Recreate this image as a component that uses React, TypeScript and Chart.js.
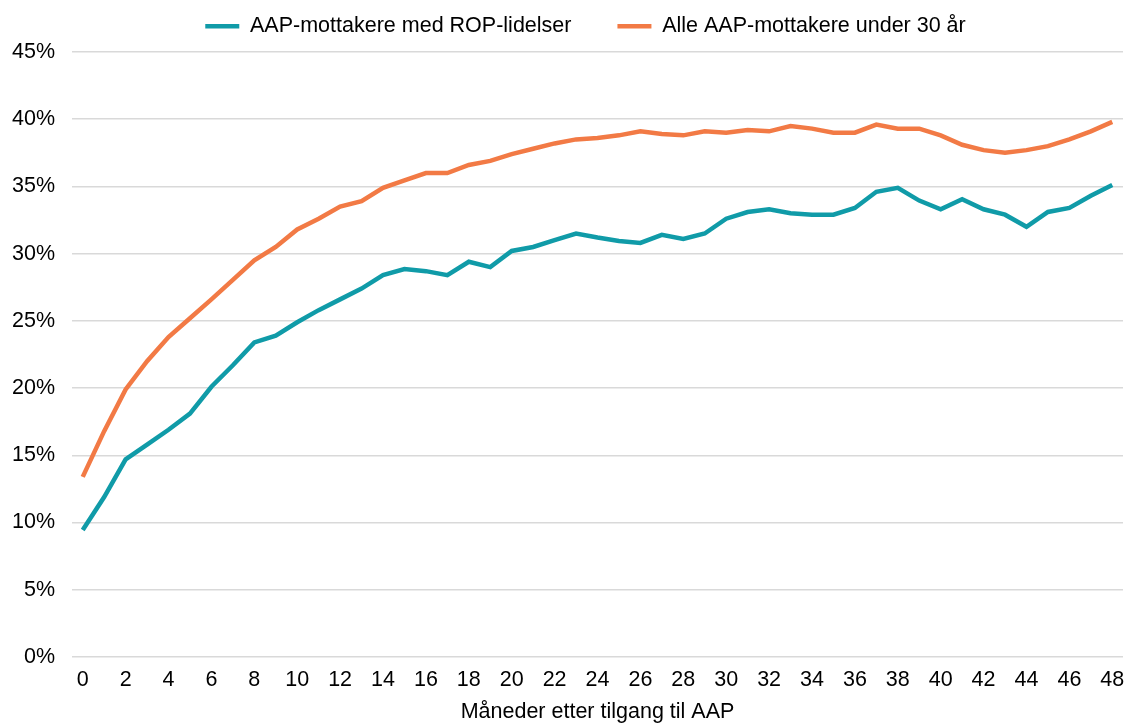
import React, { useEffect, useRef } from "react";
import { Chart, registerables } from "chart.js";

Chart.register(...registerables);

const months: string[] = Array.from({ length: 49 }, (_, i) => String(i));

const ropSeries: number[] = [
  9.45, 11.9, 14.7, 15.8, 16.9, 18.1, 20.1, 21.7, 23.4, 23.9,
  24.9, 25.8, 26.6, 27.4, 28.4, 28.85, 28.7, 28.4, 29.4, 29.0,
  30.2, 30.5, 31.0, 31.5, 31.2, 30.95, 30.8, 31.4, 31.1, 31.5,
  32.6, 33.1, 33.3, 33.0, 32.9, 32.9, 33.4, 34.6, 34.9, 33.95,
  33.3, 34.05, 33.3, 32.9, 32.0, 33.1, 33.4, 34.3, 35.1,
];

const allSeries: number[] = [
  13.4, 16.8, 19.9, 22.0, 23.8, 25.2, 26.6, 28.05, 29.5, 30.5,
  31.8, 32.6, 33.5, 33.9, 34.9, 35.45, 36.0, 36.0, 36.6, 36.9,
  37.4, 37.8, 38.2, 38.5, 38.6, 38.8, 39.1, 38.9, 38.8, 39.1,
  39.0, 39.2, 39.1, 39.5, 39.3, 39.0, 39.0, 39.6, 39.3, 39.3,
  38.8, 38.1, 37.7, 37.5, 37.7, 38.0, 38.5, 39.1, 39.8,
];

const seriesNames: string[] = [
  "AAP-mottakere med ROP-lidelser",
  "Alle AAP-mottakere under 30 år",
];

const xTitle = "Måneder etter tilgang til AAP";

const FONT = "'Liberation Sans', Arial, Helvetica, sans-serif";
const FONT_SIZE = 21.5;

const legendTweak = {
  id: "legendTweak",
  beforeInit(chart: any) {
    const legend = chart.legend;
    if (legend) {
      const origFit = legend.fit;
      legend.fit = function () {
        origFit.call(this);
        this.height = 52;
      };
    }
  },
  afterLayout(chart: any) {
    const legend = chart.legend;
    if (legend) {
      legend.left += 24;
      legend.right += 24;
      legend.top = -30.5;
    }
  },
};

export default function App() {
  const canvasRef = useRef<HTMLCanvasElement | null>(null);

  useEffect(() => {
    if (!canvasRef.current) return;
    const chart = new Chart(canvasRef.current, {
      type: "line",
      data: {
        labels: months,
        datasets: [
          {
            label: seriesNames[0],
            data: ropSeries,
            borderColor: "#109ba8",
            backgroundColor: "#109ba8",
            borderWidth: 4.5,
            pointRadius: 0,
            tension: 0,
          },
          {
            label: seriesNames[1],
            data: allSeries,
            borderColor: "#f27a45",
            backgroundColor: "#f27a45",
            borderWidth: 4.5,
            pointRadius: 0,
            tension: 0,
          },
        ],
      },
      options: {
        animation: false,
        responsive: true,
        maintainAspectRatio: false,
        layout: { padding: { left: 0, right: 5, top: 0, bottom: 0 } },
        plugins: {
          legend: {
            position: "top",
            labels: {
              usePointStyle: true,
              pointStyle: "line",
              pointStyleWidth: 34,
              padding: 46,
              color: "#000",
              font: { family: FONT, size: FONT_SIZE },
            },
          },
          tooltip: { enabled: false },
        },
        scales: {
          x: {
            offset: true,
            grid: { display: false, drawTicks: false },
            border: { display: false },
            ticks: {
              autoSkip: false,
              maxRotation: 0,
              padding: 10,
              color: "#000",
              font: { family: FONT, size: FONT_SIZE },
              callback: (_v: any, i: number) => (i % 2 === 0 ? months[i] : ""),
            },
            title: {
              display: true,
              text: xTitle,
              color: "#000",
              font: { family: FONT, size: FONT_SIZE, lineHeight: 1.0 },
              padding: { top: 2, bottom: 0 },
            },
            afterFit: (scale: any) => {
              scale.height = 66;
              scale.paddingLeft = 0;
              scale.paddingRight = 0;
            },
          },
          y: {
            min: 0,
            max: 45,
            grid: { color: "#d9d9d9", lineWidth: 1.5, drawTicks: false },
            border: { display: false },
            ticks: {
              stepSize: 5,
              padding: 17,
              color: "#000",
              font: { family: FONT, size: FONT_SIZE },
              callback: (v: any) => v + "%",
            },
            afterFit: (scale: any) => {
              scale.width = 72;
            },
          },
        },
      },
      plugins: [legendTweak],
    });
    return () => chart.destroy();
  }, []);

  return (
    <div style={{ position: "fixed", left: 0, top: 0, width: 1128, height: 723, background: "#fff" }}>
      <canvas ref={canvasRef} />
    </div>
  );
}
